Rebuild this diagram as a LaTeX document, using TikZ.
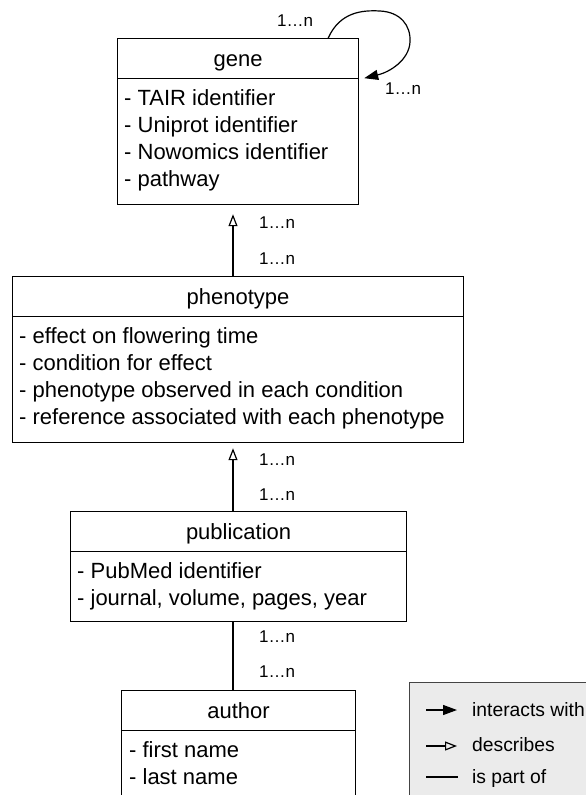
\documentclass[tikz,border=0pt]{standalone}
\usepackage{fontspec}
\setmainfont{Liberation Sans}
\usetikzlibrary{arrows.meta,calc}
\definecolor{legfill}{HTML}{EBEBEB}
\definecolor{legdraw}{HTML}{444444}
\begin{document}
\begin{tikzpicture}[x=1pt,y=-1pt,
  box/.style={draw, line width=1.2pt, inner sep=0pt, anchor=north west},
  hdr/.style={box, minimum height=40pt, text height=16pt, text depth=1pt, font=\fontsize{22}{27}\selectfont},
  body/.style={box},
  attr/.style={anchor=north west, inner sep=0pt, align=left, font=\fontsize{22}{27}\selectfont},
  card/.style={anchor=base west, inner sep=0pt, font=\fontsize{17}{20}\selectfont},
  desc/.style={line width=1.2pt, -{Triangle[open, length=12pt, width=9pt, line width=1.2pt]}},
  inter/.style={line width=1.2pt, -{Triangle[length=14pt, width=10pt]}},
  part/.style={line width=1.2pt},
  legtext/.style={anchor=base west, inner sep=0pt, font=\fontsize{19.3}{23}\selectfont}
]
\useasboundingbox (0,0) rectangle (586,795);

% gene
\node[hdr, minimum width=241pt] (geneh) at (117,38) {gene};
\node[body, minimum width=241pt, minimum height=126pt] (geneb) at (117,78) {};
\node[attr] (genet) at ($(geneb.north west)+(7,8.1)$) {\strut- TAIR identifier\\- Uniprot identifier\\- Nowomics identifier\\- pathway};

% phenotype
\node[hdr, minimum width=451pt] (phenoh) at (12,276) {phenotype};
\node[body, minimum width=451pt, minimum height=126pt] (phenob) at (12,316) {};
\node[attr] (phenot) at ($(phenob.north west)+(7,8.1)$) {\strut- effect on flowering time\\- condition for effect\\- phenotype observed in each condition\\- reference associated with each phenotype};

% publication
\node[hdr, minimum width=336pt] (pubh) at (70,511) {publication};
\node[body, minimum width=336pt, minimum height=70pt] (pubb) at (70,551) {};
\node[attr] (pubt) at ($(pubb.north west)+(7,8.1)$) {\strut- PubMed identifier\\- journal, volume, pages, year};

% author
\node[hdr, minimum width=234pt] (authh) at (121,690) {author};
\node[body, minimum width=234pt, minimum height=70pt] (authb) at (121,730) {};
\node[attr] (autht) at ($(authb.north west)+(8,8.1)$) {\strut- first name\\- last name};

% connectors
\coordinate (spine) at (233,0);
\draw[desc, shorten >=9pt] (phenoh.north -| spine) -- (geneb.south -| spine);
\draw[desc, shorten >=5pt] (pubh.north -| spine) -- (phenob.south -| spine);
\draw[part] (authh.north -| spine) -- (pubb.south -| spine);

% self loop
\coordinate (ls) at ($(geneh.north east)+(-31,0)$);
\coordinate (le) at ($(geneh.south east)+(5,-1)$);
\draw[inter] (ls) .. controls (340,12) and (362,10) .. (380,11)
  .. controls (400,12) and (411,25) .. (410,42)
  .. controls (409,60) and (390,72) .. (le);

% cardinalities
\node[card] (c1) at (277,27) {1…n};
\node[card] (c2) at (385,94) {1…n};
\node[card] (c3) at (259,228) {1…n};
\node[card] (c4) at (259,264) {1…n};
\node[card] (c5) at (259,465) {1…n};
\node[card] (c6) at (259,500) {1…n};
\node[card] (c7) at (259,642) {1…n};
\node[card] (c8) at (259,677) {1…n};

% legend
\node[draw=legdraw, fill=legfill, line width=1.2pt, anchor=north west, minimum width=200pt, minimum height=150pt] (legend) at (409,682) {};
\coordinate (l1a) at (426,710); \coordinate (l1b) at (457,710);
\coordinate (l2a) at (426,746); \coordinate (l2b) at (457,746);
\coordinate (l3a) at (426,777); \coordinate (l3b) at (458,777);
\draw[inter] (l1a) -- (l1b);
\draw[desc] (l2a) -- (l2b);
\draw[part] (l3a) -- (l3b);
\node[legtext] (lt1) at (472,716) {interacts with};
\node[legtext] (lt2) at (472,751) {describes};
\node[legtext] (lt3) at (472,783) {is part of};
\end{tikzpicture}
\end{document}
